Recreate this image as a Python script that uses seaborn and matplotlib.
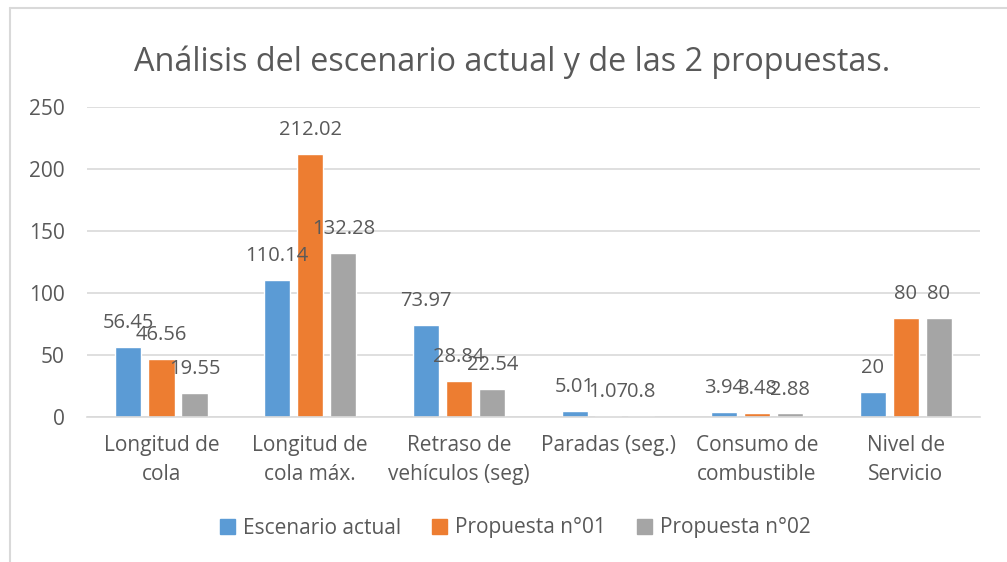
import matplotlib
matplotlib.use("Agg")
import matplotlib.pyplot as plt
import seaborn as sns
import pandas as pd

categories = [
    "Longitud de\ncola",
    "Longitud de\ncola máx.",
    "Retraso de\nvehículos (seg)",
    "Paradas (seg.)",
    "Consumo de\ncombustible",
    "Nivel de\nServicio",
]
series_names = ["Escenario actual", "Propuesta n°01", "Propuesta n°02"]
escenario_actual = [56.45, 110.14, 73.97, 5.01, 3.94, 20]
propuesta_01 = [46.56, 212.02, 28.84, 1.07, 3.48, 80]
propuesta_02 = [19.55, 132.28, 22.54, 0.8, 2.88, 80]
y_ticks = [0, 50, 100, 150, 200, 250]

colors = ["#5B9BD5", "#ED7D31", "#A5A5A5"]
text_color = "#595959"

sns.set_theme(style="white")
plt.rcParams["font.family"] = ["Open Sans", "DejaVu Sans"]

df = pd.DataFrame({
    "categoria": categories * 3,
    "serie": [s for s in series_names for _ in categories],
    "valor": escenario_actual + propuesta_01 + propuesta_02,
})

fig = plt.figure(figsize=(10.07, 5.62), dpi=100)
ax = fig.add_axes([0.0864, 0.258, 0.887, 0.552])

sns.barplot(data=df, x="categoria", y="valor", hue="serie", palette=colors,
            order=categories, hue_order=series_names, saturation=1,
            width=0.667, gap=0.21, ax=ax, legend=False)

ax.set_ylim(0, 250)
ax.set_xlim(-0.5, len(categories) - 0.5)
ax.set_yticks(y_ticks)
ax.set_yticklabels([str(t) for t in y_ticks], fontsize=15, color=text_color)
ax.tick_params(axis="x", labelsize=15, colors=text_color, length=0, pad=13)
ax.tick_params(axis="y", length=0, pad=16)
for lbl in ax.get_xticklabels():
    lbl.set_color(text_color)
    lbl.set_linespacing(1.5)
ax.set_xlabel("")
ax.set_ylabel("")
ax.yaxis.grid(True, color="#D9D9D9", linewidth=1.2)
ax.set_axisbelow(True)
for side in ["top", "right", "left"]:
    ax.spines[side].set_visible(False)
ax.spines["bottom"].set_color("#D9D9D9")
ax.spines["bottom"].set_linewidth(1.2)

for container in ax.containers:
    labels = [f"{v:g}" for v in container.datavalues]
    ax.bar_label(container, labels=labels, padding=10, fontsize=14.5, color=text_color)

fig.text(512 / 1007, 1 - 62 / 562, "Análisis del escenario actual y de las 2 propuestas.",
         ha="center", va="center", fontsize=23.3, color=text_color)

handles = [plt.Rectangle((0, 0), 1, 1, color=c) for c in colors]
fig.legend(handles, series_names, loc="center", bbox_to_anchor=(0.512, 1 - 528 / 562),
           ncol=3, frameon=False, fontsize=15, labelcolor=text_color,
           handlelength=0.7, handleheight=0.7, handletextpad=0.4, columnspacing=1.5)

# outer chart frame (left and top edges)
fig.add_artist(plt.Line2D([10 / 1007, 10 / 1007], [0, 1 - 8 / 562],
                          transform=fig.transFigure, color="#D9D9D9", linewidth=1.5))
fig.add_artist(plt.Line2D([10 / 1007, 1], [1 - 8 / 562, 1 - 8 / 562],
                          transform=fig.transFigure, color="#D9D9D9", linewidth=1.5))

fig.savefig("out.png", dpi=100)
